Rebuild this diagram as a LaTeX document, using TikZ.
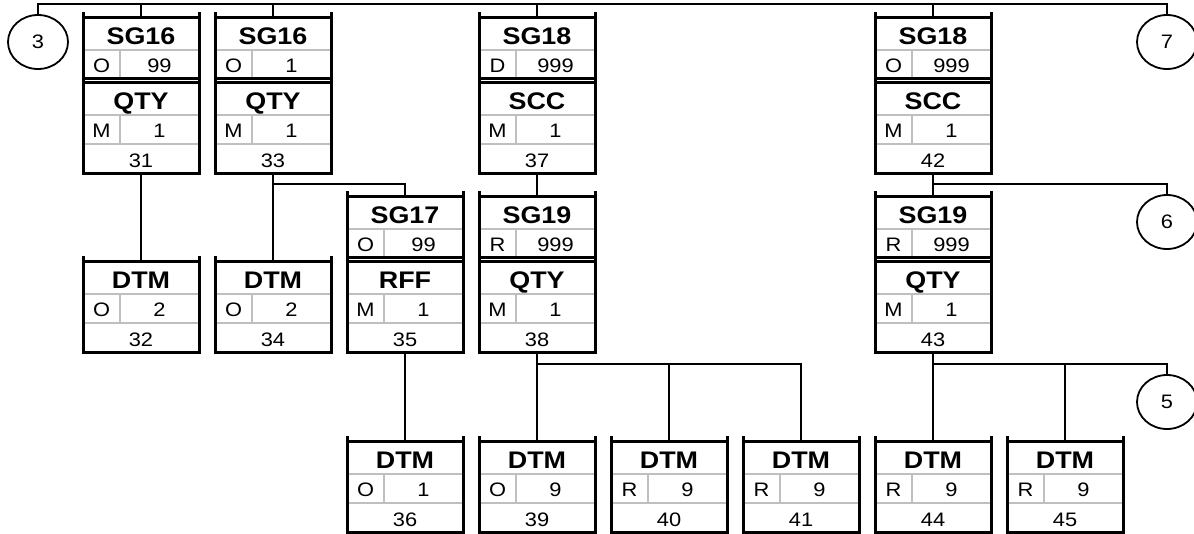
\documentclass[tikz,border=0pt]{standalone}
\usepackage{fontspec}
\setmainfont{Liberation Sans}[FakeStretch=1.12]
\usetikzlibrary{shapes.geometric}
\tikzset{
  frame/.style={draw=black, line width=3pt, rectangle, minimum width=116pt, inner sep=0pt},
  inner/.style={draw=black!25, line width=2pt},
  tick/.style={draw=black, line width=3pt},
  conn/.style={draw=black, line width=2.3pt},
  ttl/.style={font=\bfseries\fontsize{24}{24}\selectfont, inner sep=0pt, anchor=base},
  sm/.style={font=\fontsize{19.5}{19.5}\selectfont, inner sep=0pt, anchor=base},
  circ/.style={draw=black, ellipse, line width=1.8pt, minimum width=60pt, minimum height=54pt, inner sep=0pt, font=\fontsize{19.5}{19.5}\selectfont},
}
% segment box: name, cx, top, title, status, rep, number
\newcommand{\segbox}[7]{%
  \draw[inner] (#2-58,#3+34) -- (#2+58,#3+34);
  \draw[inner] (#2-58,#3+63) -- (#2+58,#3+63);
  \draw[inner] (#2-21,#3+34) -- (#2-21,#3+63);
  \node[frame, minimum height=91pt, anchor=north] (#1) at (#2,#3) {};
  \draw[tick] (#2-58,#3-4) -- (#2-58,#3+1);
  \draw[tick] (#2+58,#3-4) -- (#2+58,#3+1);
  \node[ttl] (#1-t) at (#2,#3+28.5) {#4};
  \node[sm] (#1-s) at (#2-39.5,#3+56.5) {#5};
  \node[sm] (#1-r) at (#2+18.5,#3+56.5) {#6};
  \node[sm] (#1-n) at (#2,#3+86) {#7};
}
% group box: name, cx, top, title, status, rep
\newcommand{\grpbox}[6]{%
  \draw[inner] (#2-58,#3+34) -- (#2+58,#3+34);
  \draw[inner] (#2-21,#3+34) -- (#2-21,#3+61);
  \node[frame, minimum height=61pt, anchor=north] (#1) at (#2,#3) {};
  \draw[tick] (#2-58,#3-4) -- (#2-58,#3+1);
  \draw[tick] (#2+58,#3-4) -- (#2+58,#3+1);
  \node[ttl] (#1-t) at (#2,#3+28.5) {#4};
  \node[sm] (#1-s) at (#2-39.5,#3+56.5) {#5};
  \node[sm] (#1-r) at (#2+18.5,#3+56.5) {#6};
}
\begin{document}
\begin{tikzpicture}[x=1pt,y=-1pt]
\useasboundingbox (0,0) rectangle (1194,533);
% row 1
\grpbox{g16a}{141}{16}{SG16}{O}{99}
\segbox{q31}{141}{81}{QTY}{M}{1}{31}
\grpbox{g16b}{273}{16}{SG16}{O}{1}
\segbox{q33}{273}{81}{QTY}{M}{1}{33}
\grpbox{g18a}{537}{16}{SG18}{D}{999}
\segbox{s37}{537}{81}{SCC}{M}{1}{37}
\grpbox{g18b}{933}{16}{SG18}{O}{999}
\segbox{s42}{933}{81}{SCC}{M}{1}{42}
% row 2
\segbox{d32}{141}{260}{DTM}{O}{2}{32}
\segbox{d34}{273}{260}{DTM}{O}{2}{34}
\grpbox{g17}{405}{195}{SG17}{O}{99}
\segbox{r35}{405}{260}{RFF}{M}{1}{35}
\grpbox{g19a}{537}{195}{SG19}{R}{999}
\segbox{q38}{537}{260}{QTY}{M}{1}{38}
\grpbox{g19b}{933}{195}{SG19}{R}{999}
\segbox{q43}{933}{260}{QTY}{M}{1}{43}
% row 3
\segbox{d36}{405}{440}{DTM}{O}{1}{36}
\segbox{d39}{537}{440}{DTM}{O}{9}{39}
\segbox{d40}{669}{440}{DTM}{R}{9}{40}
\segbox{d41}{801}{440}{DTM}{R}{9}{41}
\segbox{d44}{933}{440}{DTM}{R}{9}{44}
\segbox{d45}{1065}{440}{DTM}{R}{9}{45}
% circles
\node[circ] (c3) at (38,42) {3};
\node[circ] (c7) at (1167,42) {7};
\node[circ] (c6) at (1167,222) {6};
\node[circ] (c5) at (1167,402) {5};
% connectors
\coordinate (top3) at (38,4);
\coordinate (top7) at (1167,4);
\draw[conn] (c3.north) -- (top3) -- (top7) -- (c7.north);
\draw[conn] (g16a.north) -- (g16a.north |- top3);
\draw[conn] (g16b.north) -- (g16b.north |- top3);
\draw[conn] (g18a.north) -- (g18a.north |- top3);
\draw[conn] (g18b.north) -- (g18b.north |- top3);
\draw[conn] (q31.south) -- (d32.north);
\coordinate (b33) at (273,184);
\draw[conn] (q33.south) -- (d34.north);
\draw[conn] (b33) -| (g17.north);
\draw[conn] (r35.south) -- (d36.north);
\draw[conn] (s37.south) -- (g19a.north);
\coordinate (b38) at (537,364);
\draw[conn] (q38.south) -- (d39.north);
\draw[conn] (b38) -| (d41.north);
\draw[conn] (d40.north |- b38) -- (d40.north);
\coordinate (b42) at (933,184);
\draw[conn] (s42.south) -- (g19b.north);
\draw[conn] (b42) -| (c6.north);
\coordinate (b43) at (933,364);
\draw[conn] (q43.south) -- (d44.north);
\draw[conn] (b43) -| (c5.north);
\draw[conn] (d45.north |- b43) -- (d45.north);
\end{tikzpicture}
\end{document}
